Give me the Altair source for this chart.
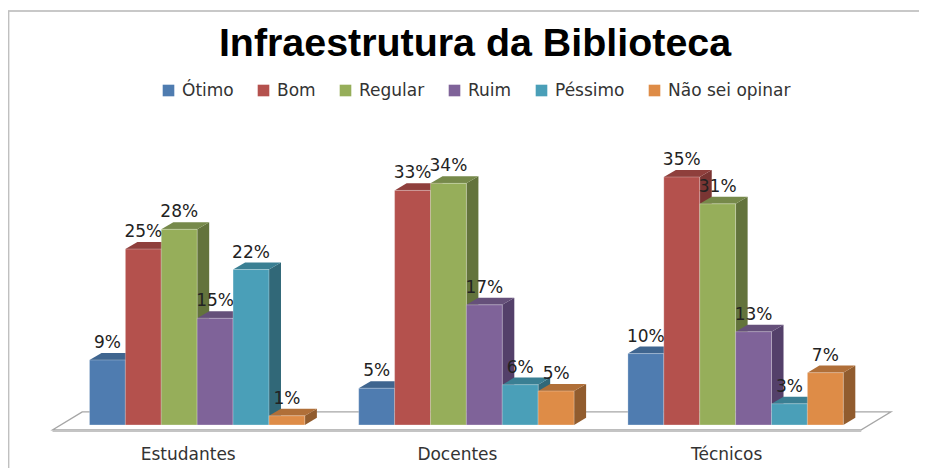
import altair as alt
import pandas as pd

title = "Infraestrutura da Biblioteca"
groups = ["Estudantes", "Docentes", "Técnicos"]
series = ["Ótimo", "Bom", "Regular", "Ruim", "Péssimo", "Não sei opinar"]
estudantes = [9.2, 24.9, 27.7, 15.1, 22.0, 1.3]
docentes = [5.2, 33.2, 34.2, 17.0, 5.7, 4.8]
tecnicos = [10.1, 35.1, 31.3, 13.2, 3.0, 7.4]
front_colors = ["#4f7cb0", "#b4514d", "#96ae5a", "#7f6399", "#4a9fb8", "#de8c47"]
top_colors = ["#3f658f", "#8f3f3c", "#76894a", "#65507a", "#3a7f93", "#b06f38"]
side_colors = ["#365676", "#7a3533", "#63733c", "#54406a", "#316878", "#915c2e"]

GROUP_STEP = 7.5
DX, DY = 0.335, 1.0
values = [estudantes, docentes, tecnicos]

fronts, faces_side, faces_top, labels = [], [], [], []
for g, (name, vals) in enumerate(zip(groups, values)):
    for s, v in enumerate(vals):
        x0 = g * GROUP_STEP + s
        x1 = x0 + 1
        key = f"{g}-{s}"
        fronts.append(dict(group=name, serie=series[s], x0=x0, x1=x1, v=v))
        labels.append(dict(x=(x0 + x1) / 2, v=v, text=f"{round(v)}%"))
        faces_side += [
            dict(key=key, x=x1, lo=0, hi=v, c=side_colors[s]),
            dict(key=key, x=x1 + DX, lo=DY, hi=v + DY, c=side_colors[s]),
        ]
        faces_top += [
            dict(key=key, y=v, a=x0, b=x1, c=top_colors[s]),
            dict(key=key, y=v + DY, a=x0 + DX, b=x1 + DX, c=top_colors[s]),
        ]

xs = alt.Scale(domain=[-1.1, 22.58], nice=False, zero=False)
ys = alt.Scale(domain=[-1, 46], nice=False, zero=False)
X = lambda f: alt.X(f, type="quantitative", scale=xs, axis=None)
Y = lambda f: alt.Y(f, type="quantitative", scale=ys, axis=None)

floor = pd.DataFrame([
    dict(y=-0.7, a=-1.03, b=21.5),
    dict(y=1.85, a=-0.2, b=22.33),
])
floor_layer = alt.Chart(floor).mark_area(
    orient="horizontal", fill="white", stroke="#a6a6a6", strokeWidth=1.2
).encode(y=Y("y"), x=X("a"), x2="b")
floor_front = alt.Chart(pd.DataFrame([dict(y=-0.85, a=-1.03, b=21.5)])).mark_rule(
    color="#c4c4c4", strokeWidth=2
).encode(y=Y("y"), x=X("a"), x2="b")

frame_src = pd.DataFrame([{"k": 1}])
frame_h = alt.Chart(frame_src).mark_rule(color="#c8c8c8", strokeWidth=2).encode(
    x=alt.value(-42), x2=alt.value(869), y=alt.value(-89)
)
frame_v = alt.Chart(frame_src).mark_rule(color="#c0c0c0", strokeWidth=1.6).encode(
    x=alt.value(-41.4), y=alt.value(-89), y2=alt.value(368)
)

side = alt.Chart(pd.DataFrame(faces_side)).mark_area().encode(
    x=X("x"), y=Y("lo"), y2="hi", detail="key:N", color=alt.Color("c:N", scale=None)
)
top = alt.Chart(pd.DataFrame(faces_top)).mark_area(orient="horizontal").encode(
    y=Y("y"), x=X("a"), x2="b", detail="key:N", color=alt.Color("c:N", scale=None)
)
front = alt.Chart(pd.DataFrame(fronts)).mark_rect(stroke="#ffffff", strokeWidth=0.6, strokeOpacity=0.45).encode(
    x=X("x0"), x2="x1", y=alt.Y("v:Q", scale=ys, axis=None), y2=alt.datum(0),
    color=alt.Color(
        "serie:N",
        scale=alt.Scale(domain=series, range=front_colors),
        legend=alt.Legend(
            title=None, orient="none", legendX=110, legendY=-18, direction="horizontal",
            columns=6, symbolType="square", symbolSize=135, symbolStrokeWidth=0,
            labelFont="DejaVu Sans", labelFontSize=17, labelColor="#333333",
            columnPadding=21, labelOffset=5, gridAlign="none",
        ),
    ),
)
text = alt.Chart(pd.DataFrame(labels)).mark_text(
    font="DejaVu Sans", fontSize=17, color="#222222", dy=-17
).encode(x=X("x"), y=Y("v"), text="text:N")
cat = alt.Chart(pd.DataFrame([
    dict(x=g * GROUP_STEP + 2.75, y=-1, text=n) for g, n in enumerate(groups)
])).mark_text(
    font="DejaVu Sans", fontSize=17, color="#333333", dy=23
).encode(x=X("x"), y=Y("y"), text="text:N")

chart = alt.layer(frame_h, frame_v, floor_layer, floor_front, side, top, front, text, cat).resolve_scale(
    color="independent"
).properties(
    width=850, height=332,
    title=alt.TitleParams(title, font="Liberation Sans", fontSize=39.4, fontWeight="bold",
                          color="#000000", anchor="middle", offset=-54),
    autosize=alt.AutoSizeParams(type="none"),
    padding={"left": 42, "top": 92, "right": 19, "bottom": 36},
).configure_view(stroke=None)

chart.save("out.html", embed_options={"renderer": "svg", "actions": False})
